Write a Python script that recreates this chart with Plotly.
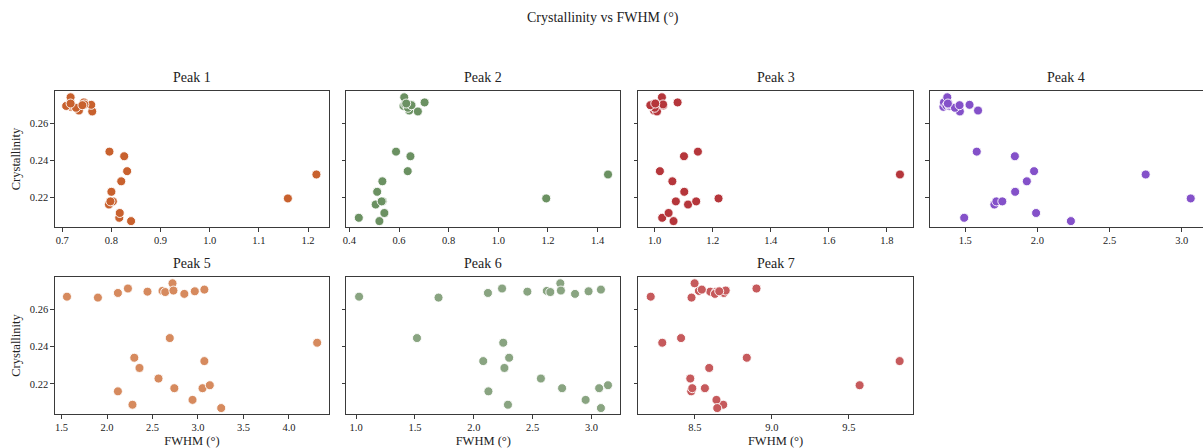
import plotly.graph_objects as go

# Crystallinity of each sample (shared by all peaks)
crystallinity = [0.2670, 0.2665, 0.2690, 0.2714, 0.2697, 0.2701, 0.2695, 0.2742, 0.2703,
                 0.2685, 0.2699, 0.2708, 0.2447, 0.2422, 0.2341, 0.2323, 0.2286, 0.2229,
                 0.2160, 0.2177, 0.2177, 0.2193, 0.2088, 0.2114, 0.2070]

# FWHM (degrees) per peak, same sample order
fwhm_peak1 = [0.734, 0.761, 0.718, 0.744, 0.720, 0.759, 0.708, 0.717, 0.745, 0.728, 0.741, 0.717,
              0.796, 0.826, 0.832, 1.217, 0.820, 0.800, 0.795, 0.803, 0.798, 1.159, 0.816, 0.817, 0.840]
fwhm_peak2 = [0.641, 0.676, 0.628, 0.703, 0.632, 0.651, 0.618, 0.621, 0.625, 0.636, 0.650, 0.629,
              0.588, 0.646, 0.635, 1.442, 0.533, 0.512, 0.506, 0.534, 0.530, 1.193, 0.438, 0.541, 0.521]
fwhm_peak3 = [0.998, 1.008, 0.995, 1.079, 1.030, 0.990, 0.990, 1.025, 1.029, 1.000, 0.985, 1.002,
              1.149, 1.101, 1.018, 1.845, 1.061, 1.102, 1.115, 1.073, 1.143, 1.220, 1.026, 1.048, 1.065]
fwhm_peak4 = [1.589, 1.463, 1.349, 1.353, 1.370, 1.530, 1.390, 1.376, 1.385, 1.429, 1.461, 1.380,
              1.580, 1.844, 1.977, 2.750, 1.927, 1.846, 1.702, 1.716, 1.757, 3.062, 1.493, 1.991, 2.232]
fwhm_peak5 = [1.560, 1.900, 2.120, 2.230, 2.445, 2.610, 2.640, 2.720, 2.730, 2.850, 2.965, 3.070,
              2.690, 4.310, 2.300, 3.070, 2.357, 2.566, 2.120, 2.740, 3.050, 3.130, 2.280, 2.940, 3.255]
fwhm_peak6 = [1.025, 1.700, 2.120, 2.240, 2.455, 2.620, 2.650, 2.735, 2.740, 2.860, 2.975, 3.080,
              1.517, 2.250, 2.300, 2.080, 2.260, 2.570, 2.124, 2.750, 3.065, 3.140, 2.290, 2.950, 3.080]
fwhm_peak7 = [8.213, 8.478, 8.688, 8.900, 8.600, 8.526, 8.636, 8.498, 8.700, 8.630, 8.658, 8.545,
              8.410, 8.288, 8.837, 9.830, 8.593, 8.470, 8.476, 8.565, 8.483, 9.570, 8.684, 8.640, 8.645]

peak_names = ["Peak 1", "Peak 2", "Peak 3", "Peak 4", "Peak 5", "Peak 6", "Peak 7"]
peak_fwhm = [fwhm_peak1, fwhm_peak2, fwhm_peak3, fwhm_peak4, fwhm_peak5, fwhm_peak6, fwhm_peak7]
peak_colors = ["#c8612e", "#6b9162", "#b5363b", "#8451c9", "#d68a5e", "#89a481", "#c65a5c"]

x_ranges = [[0.685, 1.243], [0.387, 1.492], [0.944, 1.889], [1.254, 3.147],
            [1.427, 4.442], [0.915, 3.246], [8.133, 9.915]]
x_ticks = [[0.7, 0.8, 0.9, 1.0, 1.1, 1.2], [0.4, 0.6, 0.8, 1.0, 1.2, 1.4],
           [1.0, 1.2, 1.4, 1.6, 1.8], [1.5, 2.0, 2.5, 3.0],
           [1.5, 2.0, 2.5, 3.0, 3.5, 4.0], [1.0, 1.5, 2.0, 2.5, 3.0], [8.5, 9.0, 9.5]]
y_range = [0.2038, 0.2776]
y_ticks = [0.22, 0.24, 0.26]

W, H = 1203, 448
FONT = "Liberation Serif"
col_px = [(52, 327), (344, 619), (637, 912), (929, 1203)]
row_px = [(91, 227), (277, 414)]

fig = go.Figure()
annotations = []
for i, (name, xs, color) in enumerate(zip(peak_names, peak_fwhm, peak_colors)):
    r, c = divmod(i, 4)
    n = i + 1
    sfx = "" if n == 1 else str(n)
    x0, x1 = col_px[c]
    ytop, ybot = row_px[r]
    fig.add_trace(go.Scatter(
        x=xs, y=crystallinity, mode="markers", name=name, showlegend=False,
        xaxis="x" + sfx, yaxis="y" + sfx,
        marker=dict(color=color, size=9, line=dict(color="white", width=0.9)),
    ))
    axis_common = dict(showgrid=False, zeroline=False, showline=True, mirror=True,
                       linecolor="#3a3a3a", linewidth=1.1, ticks="outside", ticklen=3.5,
                       tickwidth=0.8, tickcolor="#3a3a3a",
                       tickfont=dict(family=FONT, size=10.5, color="#222"))
    fig.layout["xaxis" + sfx] = dict(
        axis_common, domain=[x0 / W, x1 / W], range=x_ranges[i], tickvals=x_ticks[i],
        tickformat=".1f", anchor="y" + sfx,
        title=dict(text="FWHM (°)", font=dict(family=FONT, size=12.5, color="#222"), standoff=4)
        if r == 1 else None,
    )
    fig.layout["yaxis" + sfx] = dict(
        axis_common, domain=[1 - ybot / H, 1 - ytop / H], range=y_range, tickvals=y_ticks,
        tickformat=".2f", showticklabels=(c == 0), anchor="x" + sfx,
        title=dict(text="Crystallinity", font=dict(family=FONT, size=12.5, color="#222"), standoff=6)
        if c == 0 else None,
    )
    # the rightmost panel runs past the page edge, so its right border is not drawn
    if c == 3:
        fig.layout["yaxis" + sfx].mirror = False
    annotations.append(dict(text=name, x=(x0 + x1) / 2 / W, y=1 - (ytop - 4) / H,
                            xref="paper", yref="paper", xanchor="center", yanchor="bottom",
                            showarrow=False, font=dict(family=FONT, size=14, color="#222")))

annotations.append(dict(text="Crystallinity vs FWHM (°)", x=0.5, y=1 - 18 / H,
                        xref="paper", yref="paper", xanchor="center", yanchor="middle",
                        showarrow=False, font=dict(family=FONT, size=14, color="#222")))

fig.update_layout(width=W, height=H, margin=dict(l=0, r=0, t=0, b=0),
                  paper_bgcolor="white", plot_bgcolor="white",
                  annotations=annotations, font=dict(family=FONT))

fig.write_html("out.html")
